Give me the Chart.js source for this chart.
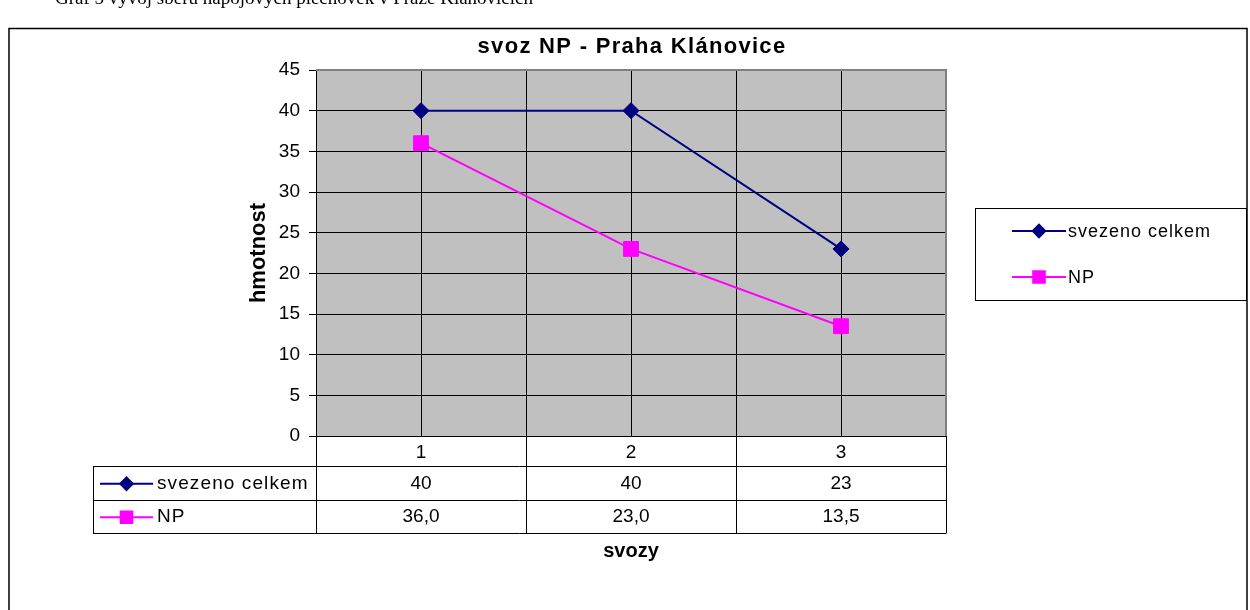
<!DOCTYPE html>
<html><head><meta charset="utf-8">
<script src="https://cdn.jsdelivr.net/npm/chart.js@4/dist/chart.umd.min.js"></script>
<style>html,body{margin:0;padding:0;background:#fff;overflow:hidden}canvas{display:block}</style>
</head><body>
<canvas id="c" width="1250" height="610"></canvas>
<script>
// ---- data ----
const categories = ['1', '2', '3'];
const seriesNames = ['svezeno celkem', 'NP'];
const svezenoCelkem = [40, 40, 23];
const npValues = [36.0, 23.0, 13.5];
const yMin = 0, yMax = 45, yStep = 5;
const chartTitle = 'svoz NP - Praha Klánovice';
const yTitle = 'hmotnost';
const xTitle = 'svozy';
const caption = 'Graf 5 vývoj sběru nápojových plechovek v Praze Klánovicích';
const tableDecimals = [0, 1];

const FONT = '"Liberation Sans", Arial, sans-serif';

function drawKey(ctx, ds, x1, x2, y) {
  ctx.save();
  ctx.strokeStyle = ds.borderColor;
  ctx.lineWidth = ds.borderWidth;
  ctx.beginPath(); ctx.moveTo(x1, y); ctx.lineTo(x2, y); ctx.stroke();
  ctx.fillStyle = ds.pointBackgroundColor;
  ctx.strokeStyle = ds.pointBorderColor;
  Chart.helpers.drawPoint(ctx, {pointStyle: ds.pointStyle, radius: ds.pointRadius * 0.78, rotation: 0, borderWidth: 1}, (x1 + x2) / 2, y);
  ctx.restore();
}

const decor = {
  id: 'decor',
  beforeDraw(chart) {
    const {ctx, chartArea: a} = chart;
    ctx.save();
    ctx.fillStyle = '#ffffff';
    ctx.fillRect(0, 0, chart.width, chart.height);
    ctx.fillStyle = '#c0c0c0';
    ctx.fillRect(a.left, a.top, a.right - a.left, a.bottom - a.top);
    ctx.restore();
  },
  beforeDatasetsDraw(chart) {
    const {ctx, chartArea: a} = chart;
    ctx.save();
    ctx.strokeStyle = '#808080';
    ctx.lineWidth = 2;
    ctx.beginPath();
    ctx.moveTo(a.left, a.top); ctx.lineTo(a.right, a.top); ctx.lineTo(a.right, a.bottom);
    ctx.stroke();
    ctx.restore();
  },
  afterDraw(chart) {
    const {ctx, chartArea: a} = chart;
    const xs = chart.scales.x;
    const ds = chart.data.datasets;
    ctx.save();
    // data table
    const rowTop = a.bottom + 30, rowH = 33.5;
    const tableLeft = 93;
    ctx.strokeStyle = '#000'; ctx.lineWidth = 1;
    ctx.beginPath();
    for (let r = 0; r <= ds.length; r++) {
      const y = Math.round(rowTop + r * rowH) + 0.5;
      ctx.moveTo(tableLeft, y); ctx.lineTo(a.right, y);
    }
    const bottomY = Math.round(rowTop + ds.length * rowH) + 0.5;
    ctx.moveTo(tableLeft + 0.5, rowTop); ctx.lineTo(tableLeft + 0.5, bottomY);
    const step = xs.getPixelForValue(1) - xs.getPixelForValue(0);
    for (let i = 0; i <= categories.length; i++) {
      const x = Math.round(xs.getPixelForValue(0) - step / 2 + i * step) + 0.5;
      ctx.moveTo(x, a.bottom); ctx.lineTo(x, bottomY);
    }
    ctx.stroke();
    ctx.fillStyle = '#000';
    ctx.textBaseline = 'middle';
    ds.forEach((d, r) => {
      const cy = rowTop + r * rowH + rowH / 2 + 1;
      drawKey(ctx, d, 100, 153, cy);
      ctx.font = '19px ' + FONT;
      ctx.textAlign = 'left';
      ctx.letterSpacing = '1.1px';
      ctx.fillText(d.label, 157, cy);
      ctx.letterSpacing = '0px';
      ctx.textAlign = 'center';
      d.data.forEach((v, i) => {
        ctx.fillText(v.toFixed(tableDecimals[r]).replace('.', ','), xs.getPixelForValue(i), cy);
      });
    });
    // legend box
    ctx.strokeStyle = '#000';
    ctx.strokeRect(975.5, 208.5, 271, 92);
    ds.forEach((d, r) => {
      const cy = 231 + r * 46;
      drawKey(ctx, d, 1012, 1066, cy);
      ctx.textAlign = 'left';
      ctx.fillStyle = '#000';
      ctx.font = '18px ' + FONT;
      ctx.letterSpacing = '1px';
      ctx.fillText(d.label, 1068, cy + 1);
      ctx.letterSpacing = '0px';
    });
    // chart title
    ctx.font = 'bold 22px ' + FONT;
    ctx.letterSpacing = '1.3px';
    ctx.textAlign = 'center';
    ctx.textBaseline = 'middle';
    ctx.fillText(chartTitle, (a.left + a.right) / 2 + 1, 47);
    ctx.letterSpacing = '0px';
    // caption (clipped at top)
    ctx.font = '19px "Liberation Serif", "Times New Roman", serif';
    ctx.textAlign = 'left';
    ctx.textBaseline = 'alphabetic';
    ctx.fillText(caption, 55, 4);
    // outer frame
    ctx.strokeStyle = '#000';
    ctx.lineWidth = 1.5;
    ctx.strokeRect(9, 28.5, 1238, 600);
    ctx.restore();
  }
};

new Chart(document.getElementById('c'), {
  type: 'line',
  data: {
    labels: categories,
    datasets: [
      {label: seriesNames[0], data: svezenoCelkem, borderColor: '#000080', backgroundColor: '#000080',
       pointBackgroundColor: '#000080', pointBorderColor: '#000080', borderWidth: 2,
       pointStyle: 'rectRot', pointRadius: 8, pointBorderWidth: 1, tension: 0},
      {label: seriesNames[1], data: npValues, borderColor: '#ff00ff', backgroundColor: '#ff00ff',
       pointBackgroundColor: '#ff00ff', pointBorderColor: '#ff00ff', borderWidth: 2,
       pointStyle: 'rect', pointRadius: 10.5, pointBorderWidth: 1, tension: 0}
    ]
  },
  options: {
    responsive: false,
    animation: false,
    events: [],
    layout: {padding: {left: 240, right: 304, top: 70, bottom: 0}},
    plugins: {legend: {display: false}, title: {display: false}, tooltip: {enabled: false}},
    scales: {
      x: {
        type: 'category', position: 'bottom', offset: true,
        grid: {display: true, offset: false, color: '#000', lineWidth: 1, drawTicks: false},
        border: {display: true, color: '#000', width: 1},
        ticks: {color: '#000', font: {family: FONT, size: 19}, padding: 5, maxRotation: 0},
        title: {display: true, text: xTitle, color: '#000', font: {family: FONT, size: 20, weight: 'bold'}, padding: {top: 0, bottom: 47}},
        afterFit(s) { s.height = 174; }
      },
      x2: {
        type: 'category', position: 'top', offset: true,
        grid: {display: true, offset: true, color: '#000', lineWidth: 1, drawTicks: false},
        border: {display: false},
        ticks: {display: false},
        afterFit(s) { s.height = 0; }
      },
      y: {
        type: 'linear', min: yMin, max: yMax,
        ticks: {stepSize: yStep, color: '#000', font: {family: FONT, size: 19}, padding: 9},
        grid: {color: (c) => (c.tick && c.tick.value === yMax ? '#808080' : '#000'), tickColor: '#000', tickLength: 7, lineWidth: 1},
        border: {display: true, color: '#000', width: 1},
        title: {display: true, text: yTitle, color: '#000', font: {family: FONT, size: 22, weight: 'bold'}, padding: {top: 6, bottom: 0}},
        afterFit(s) { s.width = 76; }
      }
    }
  },
  plugins: [decor]
});
</script>
</body></html>
